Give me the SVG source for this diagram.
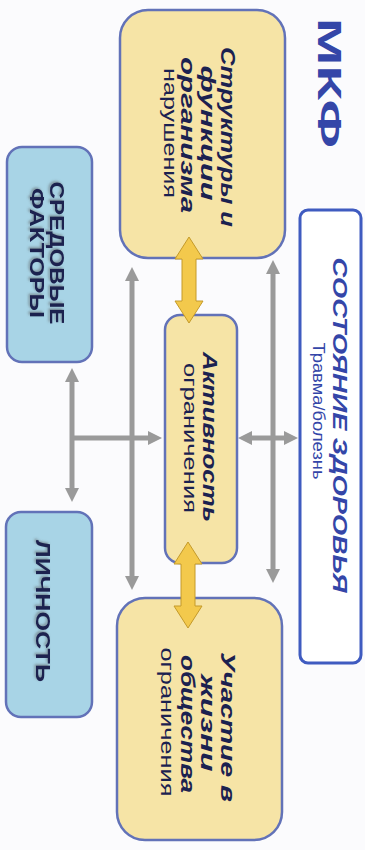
<svg xmlns="http://www.w3.org/2000/svg" width="365" height="850" viewBox="0 0 365 850">
<style>
.yb{fill:#f6e4a6;stroke:#6272b8;stroke-width:2.5}
.bb{fill:#a8d4e6;stroke:#6272b8;stroke-width:2.5}
.t{font-family:"Liberation Sans",Arial,sans-serif;fill:#1b2150;text-anchor:middle;dominant-baseline:central}
.b{font-weight:bold;font-style:italic}
.n{font-weight:normal}
.c{font-weight:bold}
.bl{fill:#3446a8}
.g{stroke:#9a9a9a;stroke-width:5;fill:none;marker-end:url(#ah)}
.g2{marker-start:url(#ah)}
.ya{fill:#f3c94c;stroke:#c49a2a;stroke-width:1}
</style>
<defs>
<marker id="ah" viewBox="0 -7 14 14" refX="0" refY="0" markerWidth="14" markerHeight="14" markerUnits="userSpaceOnUse" orient="auto-start-reverse">
<path d="M0,-7 L14,0 L0,7 z" fill="#9a9a9a"/>
</marker>
<filter id="sh" x="-20%" y="-20%" width="140%" height="140%">
<feDropShadow dx="-1.5" dy="1.5" stdDeviation="0.8" flood-color="#555" flood-opacity="0.5"/>
</filter>
</defs>
<rect width="365" height="850" fill="#fbfbfd"/>
<g id="title">
<text class="t c bl" font-size="34" textLength="130" lengthAdjust="spacingAndGlyphs" transform="translate(330,83) rotate(90)">МКФ</text>
</g>
<g id="connectors">
<line class="g g2" x1="132" y1="281" x2="132" y2="576"/>
<line class="g g2" x1="273" y1="274" x2="273" y2="569"/>
<line class="g g2" x1="72" y1="382" x2="72" y2="488"/>
<line class="g" x1="72" y1="438" x2="148" y2="438"/>
<line class="g g2" x1="252" y1="438" x2="284" y2="438"/>
</g>
<g id="health">
<rect x="300" y="210" width="61" height="453" rx="8" fill="#ffffff" stroke="#3f5bc0" stroke-width="3"/>
<text class="t b bl" font-size="20" textLength="335" lengthAdjust="spacingAndGlyphs" transform="translate(340,425) rotate(90)">СОСТОЯНИЕ ЗДОРОВЬЯ</text>
<text class="t n bl" font-size="16" textLength="137" lengthAdjust="spacingAndGlyphs" transform="translate(318,411) rotate(90)">Травма/болезнь</text>
</g>
<g id="structures">
<rect class="yb" x="120" y="10" width="165" height="248" rx="28"/>
<text class="t b" font-size="20" textLength="180" lengthAdjust="spacingAndGlyphs" transform="translate(228,137) rotate(90)">Структуры и</text>
<text class="t b" font-size="20" textLength="135" lengthAdjust="spacingAndGlyphs" transform="translate(208,133) rotate(90)">функции</text>
<text class="t b" font-size="20" textLength="156" lengthAdjust="spacingAndGlyphs" transform="translate(188,135) rotate(90)">организма</text>
<text class="t n" font-size="18" textLength="130" lengthAdjust="spacingAndGlyphs" transform="translate(170,133) rotate(90)">нарушения</text>
</g>
<g id="activity">
<rect class="yb" x="165" y="315" width="72" height="248" rx="15"/>
<text class="t b" font-size="20" textLength="170" lengthAdjust="spacingAndGlyphs" transform="translate(210,437) rotate(90)">Активность</text>
<text class="t n" font-size="18" textLength="150" lengthAdjust="spacingAndGlyphs" transform="translate(190,438) rotate(90)">ограничения</text>
</g>
<g id="participation">
<rect class="yb" x="117" y="598" width="165" height="242" rx="28"/>
<text class="t b" font-size="20" textLength="150" lengthAdjust="spacingAndGlyphs" transform="translate(228,727) rotate(90)">Участие в</text>
<text class="t b" font-size="20" textLength="97" lengthAdjust="spacingAndGlyphs" transform="translate(208,723) rotate(90)">жизни</text>
<text class="t b" font-size="20" textLength="138" lengthAdjust="spacingAndGlyphs" transform="translate(188,724) rotate(90)">общества</text>
<text class="t n" font-size="18" textLength="149" lengthAdjust="spacingAndGlyphs" transform="translate(167,722) rotate(90)">ограничения</text>
</g>
<g id="environment">
<rect class="bb" x="7" y="147" width="85" height="215" rx="15"/>
<text class="t c" font-size="20" filter="url(#sh)" textLength="143" lengthAdjust="spacingAndGlyphs" transform="translate(57,253) rotate(90)">СРЕДОВЫЕ</text>
<text class="t c" font-size="20" filter="url(#sh)" textLength="130" lengthAdjust="spacingAndGlyphs" transform="translate(37,253) rotate(90)">ФАКТОРЫ</text>
</g>
<g id="personality">
<rect class="bb" x="6" y="512" width="86" height="205" rx="15"/>
<text class="t c" font-size="20" filter="url(#sh)" textLength="142" lengthAdjust="spacingAndGlyphs" transform="translate(43,611) rotate(90)">ЛИЧНОСТЬ</text>
</g>
<g id="yellow-arrows">
<polygon class="ya" points="189,237 203,259 196,259 196,301 203,301 189,323 175,301 182,301 182,259 175,259"/>
<polygon class="ya" points="188,542 202,564 195,564 195,606 202,606 188,628 174,606 181,606 181,564 174,564"/>
</g>
</svg>
